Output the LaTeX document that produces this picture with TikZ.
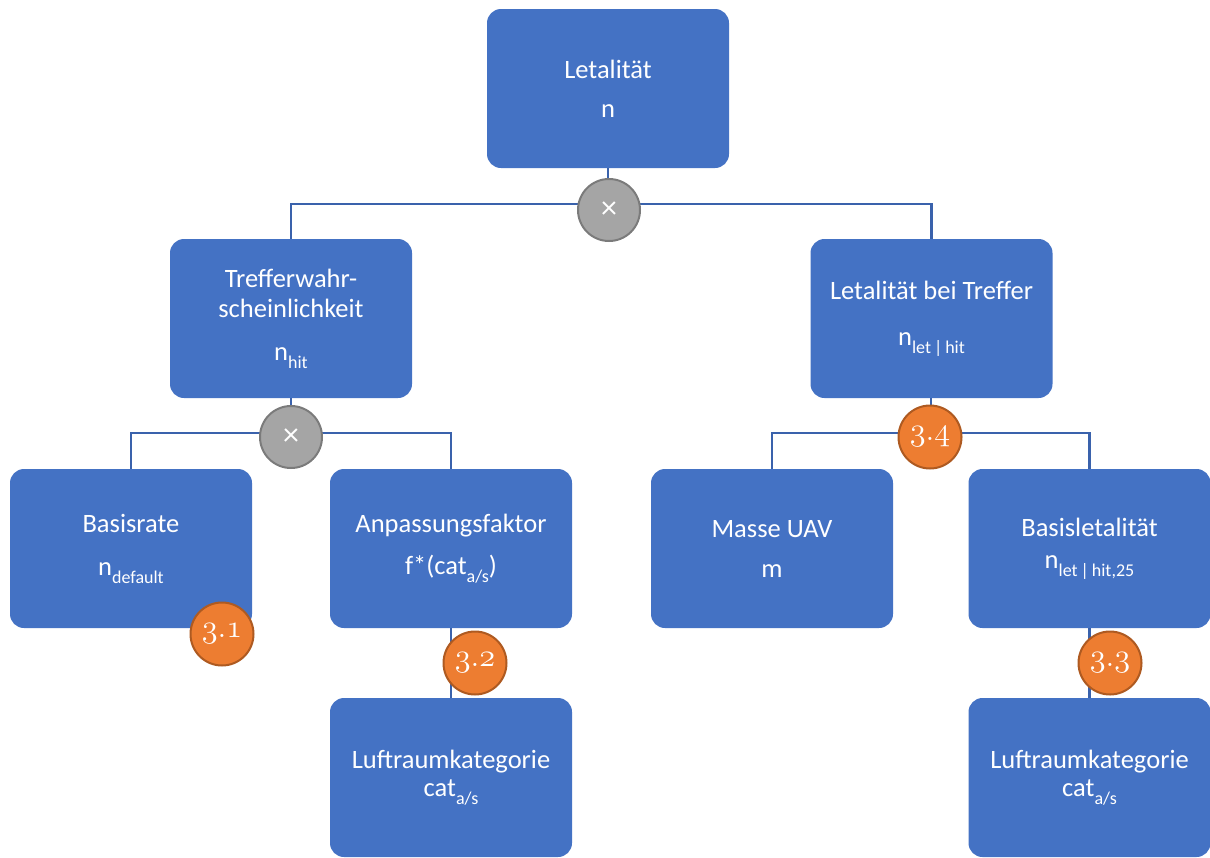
\documentclass[tikz,border=0pt]{standalone}
\usepackage{fontspec}
\setmainfont{Carlito}
\definecolor{boxblue}{HTML}{4472C4}
\definecolor{linkblue}{HTML}{3A62AC}
\definecolor{orfill}{HTML}{ED7D31}
\definecolor{ordraw}{HTML}{AE5A21}
\definecolor{gyfill}{HTML}{A5A5A5}
\definecolor{gydraw}{HTML}{7B7B7B}
\newcommand{\lsub}[1]{\raisebox{-0.3em}{\fontsize{18}{18}\selectfont #1}}
% old-style figures; in this font ':' is the period
\newcommand{\osn}[1]{\scalebox{1.3}{\usefont{OML}{cmm}{m}{it}#1}}
\begin{document}
\begin{tikzpicture}[x=1pt,y=-1pt,
  box/.style={fill=boxblue, rounded corners=14pt, minimum width=242pt, minimum height=159pt,
    inner sep=0pt, text=white, align=center, font=\fontsize{26.5}{30}\selectfont},
  link/.style={draw=linkblue, line width=2.4pt},
  opnode/.style={circle, fill=gyfill, draw=gydraw, line width=2pt, minimum size=62pt, inner sep=0pt,
    text=white, font=\fontsize{32}{32}\selectfont},
  secnode/.style={circle, fill=orfill, draw=ordraw, line width=2pt, minimum size=63pt, inner sep=0pt,
    text=white, font=\fontsize{31}{31}\selectfont}]
\useasboundingbox (0,0) rectangle (1210,857);
% boxes
\node[box] (top) at (608,88.5) {Letalität\\[9pt]n};
\node[box] (l2a) at (291,318.5) {Trefferwahr-\\scheinlichkeit\\[13pt]n\lsub{hit}};
\node[box] (l2b) at (931.5,318.5) {Letalität bei Treffer\\[16pt]n\lsub{let\,|\,hit}};
\node[box] (l3a) at (131,548.5) {Basisrate\\[13pt]n\lsub{default}};
\node[box] (l3b) at (451,548.5) {Anpassungsfaktor\\[12pt]f*(cat\lsub{a/s})};
\node[box] (l3c) at (772,548.5) {Masse UAV\\[10pt]m};
\node[box] (l3d) at (1089.5,548.5) {Basisletalität\\[2pt]n\lsub{let\,|\,hit,25}};
\node[box] (l4a) at (451,777.5) {Luftraumkategorie\\[-2pt]cat\lsub{a/s}};
\node[box] (l4b) at (1089.5,777.5) {Luftraumkategorie\\[-2pt]cat\lsub{a/s}};
% junction points
\coordinate (j1) at (608,204);
\coordinate (j2) at (291,433);
\coordinate (j3) at (931,433);
% connectors
\draw[link] (top.south) -- (j1);
\draw[link] (l2a.north) |- (j1) -| (l2b.north);
\draw[link] (l2a.south) -- (j2);
\draw[link] (l3a.north) |- (j2) -| (l3b.north);
\draw[link] (l2b.south -| j3) -- (j3);
\draw[link] (l3c.north) |- (j3) -| (l3d.north);
\draw[link] (l3b.south) -- (l4a.north);
\draw[link] (l3d.south) -- (l4b.north);
% operator circles
\node[opnode] (m1) at (609,210) {×};
\node[opnode] (m2) at (291,437) {×};
% section markers
\node[secnode] (c34) at (930,437) {\osn{3:4}};
\node[secnode] (c31) at (222,634) {\osn{3:1}};
\node[secnode] (c32) at (475,663) {\osn{3:2}};
\node[secnode] (c33) at (1110,663) {\osn{3:3}};
\end{tikzpicture}
\end{document}
